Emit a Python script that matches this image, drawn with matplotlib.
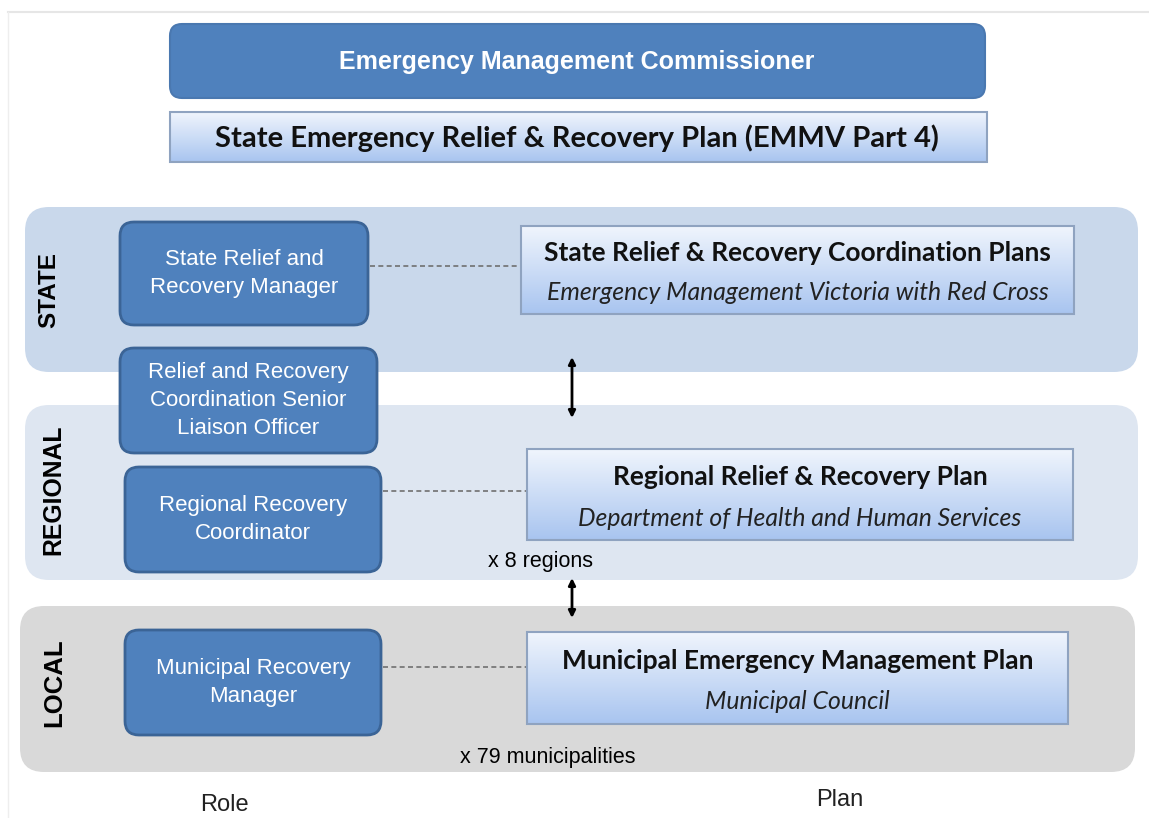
import numpy as np
import matplotlib
matplotlib.use('Agg')
from matplotlib import pyplot as plt
from matplotlib.patches import FancyBboxPatch, Rectangle

# texts of the diagram
top_role      = 'Emergency Management Commissioner'
top_plan      = 'State Emergency Relief & Recovery Plan (EMMV Part 4)'
tiers         = ['STATE', 'REGIONAL', 'LOCAL']
roles         = ['State Relief and\nRecovery Manager',
                 'Relief and Recovery\nCoordination Senior\nLiaison Officer',
                 'Regional Recovery\nCoordinator',
                 'Municipal Recovery\nManager']
plan_titles   = ['State Relief & Recovery Coordination Plans',
                 'Regional Relief & Recovery Plan',
                 'Municipal Emergency Management Plan']
plan_owners   = ['Emergency Management Victoria with Red Cross',
                 'Department of Health and Human Services',
                 'Municipal Council']
counts        = ['x 8 regions', 'x 79 municipalities']
footers       = ['Role', 'Plan']

# layout, pixel coordinates (x0, y0, x1, y1) with y going down
tier_boxes    = [(25, 207, 1138, 372), (25, 405, 1138, 580), (20, 606, 1135, 772)]
tier_colors   = ['#c9d8eb', '#dee6f1', '#d9d9d9']
tier_label_xy = [(49, 290), (53, 490), (54, 683)]
tier_sizes    = [17.5, 17.8, 18.5]
role_boxes    = [(120, 222, 368, 325), (120, 348, 377, 453),
                 (125, 467, 381, 572), (125, 630, 381, 735)]
plan_boxes    = [(521, 226, 1074, 314), (527, 449, 1073, 540), (527, 632, 1068, 724)]
links         = [(370, 521, 266), (383, 527, 491), (383, 527, 667)]
arrows        = [(572, 357, 418), (572, 578, 618)]
count_xy      = [(540, 562), (548, 757)]
footer_xy     = [(224, 805), (840, 800)]

dark_blue     = '#4f81bd'
dark_edge     = '#3b6496'
grad_top      = np.array([0.94, 0.96, 0.99])
grad_bottom   = np.array([0.66, 0.77, 0.94])

W, H = 1149, 818
fig = plt.figure(figsize=(W / 100, H / 100), dpi=100)
ax = fig.add_axes([0, 0, 1, 1])
ax.set_xlim(0, W)
ax.set_ylim(H, 0)
ax.axis('off')

# faint frame
ax.plot([8, 1149], [12, 12], color='#e6e6e6', lw=1.5)
ax.plot([8, 8], [12, 818], color='#eeeeee', lw=1.0)


def rounded(box, color, edge, rad, lw=1.5, z=1):
    x0, y0, x1, y1 = box
    p = FancyBboxPatch((x0 + rad, y0 + rad), x1 - x0 - 2 * rad, y1 - y0 - 2 * rad,
                       boxstyle='round,pad=%g' % rad, fc=color, ec=edge, lw=lw, zorder=z)
    ax.add_patch(p)


def gradient_box(box, z=3):
    x0, y0, x1, y1 = box
    t = np.linspace(0, 1, 100)[:, None, None]
    img = grad_top * (1 - t) + grad_bottom * t
    ax.imshow(img, extent=(x0, x1, y1, y0), origin='upper', aspect='auto', zorder=z)
    ax.add_patch(Rectangle((x0, y0), x1 - x0, y1 - y0, fill=False,
                           ec='#8fa3c0', lw=1.5, zorder=z + 0.1))


# top boxes
rounded((170, 24, 985, 98), dark_blue, '#4a78b0', 12, z=2)
ax.text(577, 62, top_role, color='white', fontsize=18, fontweight='bold',
        family='Liberation Sans', ha='center', va='center', zorder=5)
gradient_box((170, 112, 987, 162))
ax.text(577, 138, top_plan, color='#111111', fontsize=21, fontweight='bold',
        family='Lato', ha='center', va='center', zorder=5)

# tiers
for box, col, (lx, ly), name, fs in zip(tier_boxes, tier_colors, tier_label_xy,
                                        tiers, tier_sizes):
    rounded(box, col, col, 24, lw=0, z=1)
    ax.text(lx, ly, name, rotation=90, fontsize=fs, fontweight='bold',
            family='Liberation Sans', ha='center', va='center', zorder=5)

# role boxes
for box, label in zip(role_boxes, roles):
    rounded(box, dark_blue, dark_edge, 14, lw=2, z=4)
    ax.text((box[0] + box[2]) / 2, (box[1] + box[3]) / 2, label, color='white',
            fontsize=16, family='Liberation Sans', ha='center', va='center',
            linespacing=1.45, zorder=5)

# plan boxes
for box, title, owner in zip(plan_boxes, plan_titles, plan_owners):
    gradient_box(box)
    xc = (box[0] + box[2]) / 2
    ax.text(xc, box[1] + 0.31 * (box[3] - box[1]), title, fontsize=19,
            fontweight='bold', family='Lato', color='#111111',
            ha='center', va='center', zorder=5)
    ax.text(xc, box[1] + 0.76 * (box[3] - box[1]), owner, fontsize=17.8,
            style='italic', family='Lato', color='#222222',
            ha='center', va='center', zorder=5)

# dashed links
for x0, x1, y in links:
    ax.plot([x0, x1], [y, y], color='#707070', lw=1.2, ls=(0, (3, 2)), zorder=3)

# double arrows
for x, y0, y1 in arrows:
    ax.annotate('', xy=(x, y0), xytext=(x, y1), zorder=5,
                arrowprops=dict(arrowstyle='<|-|>', color='black', lw=2,
                                mutation_scale=10, shrinkA=0, shrinkB=0))

for (x, y), txt in zip(count_xy, counts):
    ax.text(x, y, txt, fontsize=15.5, family='Liberation Sans', ha='center',
            va='center', zorder=5)

for (x, y), txt in zip(footer_xy, footers):
    ax.text(x, y, txt, fontsize=17, family='Liberation Sans', ha='center',
            va='center', color='#222222')

fig.savefig('out.png', dpi=100)
